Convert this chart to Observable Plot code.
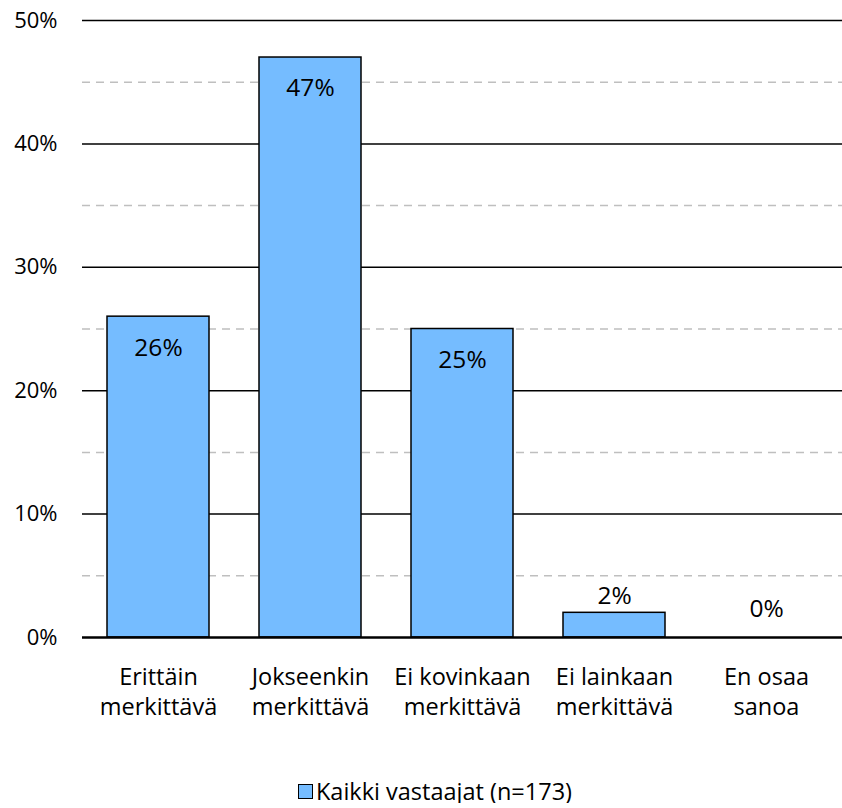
<!DOCTYPE html>
<html>
<head>
<meta charset="utf-8">
<script src="https://cdn.jsdelivr.net/npm/d3@7"></script>
<script src="https://cdn.jsdelivr.net/npm/@observablehq/plot@0.6"></script>
<style>
  html, body { margin: 0; background: #fff; font-family: "Open Sans", sans-serif; overflow: hidden; }
  #chart svg { display: block; }
  .legend { display: flex; justify-content: center; align-items: center; font-size: 23.5px; color: #000; padding-top: 19px; padding-left: 28px; line-height: 24px; height: 24px; }
  .legend .sw { width: 13px; height: 13px; background: #75bcff; border: 1px solid #000; margin-right: 3px; }
</style>
</head>
<body>
<div id="chart"></div>
<div class="legend"><span class="sw"></span><span id="legtext"></span></div>
<script>
const categories = ["Erittäin\nmerkittävä", "Jokseenkin\nmerkittävä", "Ei kovinkaan\nmerkittävä", "Ei lainkaan\nmerkittävä", "En osaa\nsanoa"];
const values = [26, 47, 25, 2, 0];
const majorTicks = [0, 10, 20, 30, 40, 50];
const minorTicks = [5, 15, 25, 35, 45];
const seriesName = "Kaikki vastaajat (n=173)";

document.getElementById("legtext").textContent = seriesName;

const data = categories.map((c, i) => ({category: c, value: values[i]}));

const chart = Plot.plot({
  width: 842,
  height: 760,
  marginTop: 20,
  marginBottom: 123,
  marginLeft: 82,
  marginRight: 0,
  style: {fontFamily: "'Open Sans', sans-serif", fontSize: "22px", color: "#000"},
  x: {domain: categories, paddingInner: 0.33, paddingOuter: 0.165, label: null},
  y: {domain: [0, 50], label: null},
  marks: [
    Plot.ruleY(minorTicks, {stroke: "#bfbfbf", strokeWidth: 1.5, strokeDasharray: "8,6"}),
    Plot.ruleY(majorTicks.filter(d => d > 0), {stroke: "#000", strokeWidth: 1.5}),
    Plot.barY(data, {x: "category", y: "value", fill: "#75bcff", stroke: "#000", strokeWidth: 1.5}),
    Plot.ruleY([0], {stroke: "#000", strokeWidth: 2.5}),
    Plot.ruleX([0], {frameAnchor: "left", stroke: "#000", strokeWidth: 2}),
    Plot.axisY({ticks: majorTicks, tickSize: 0, tickPadding: 25, tickFormat: d => d + "%", fontSize: 22, label: null}),
    Plot.axisX({tickSize: 0, tickPadding: 26, fontSize: 23.5, lineHeight: 1.28, label: null}),
    Plot.text(data.filter(d => d.value >= 5), {x: "category", y: "value", text: d => d.value + "%", dy: 31, fontSize: 24.5}),
    Plot.text(data.filter(d => d.value > 0 && d.value < 5), {x: "category", y: "value", text: d => d.value + "%", dy: -17, fontSize: 24.5}),
    Plot.text(data.filter(d => d.value === 0), {x: "category", y: "value", text: d => d.value + "%", dy: -28, fontSize: 24.5})
  ]
});
document.getElementById("chart").appendChild(chart);
</script>
</body>
</html>
